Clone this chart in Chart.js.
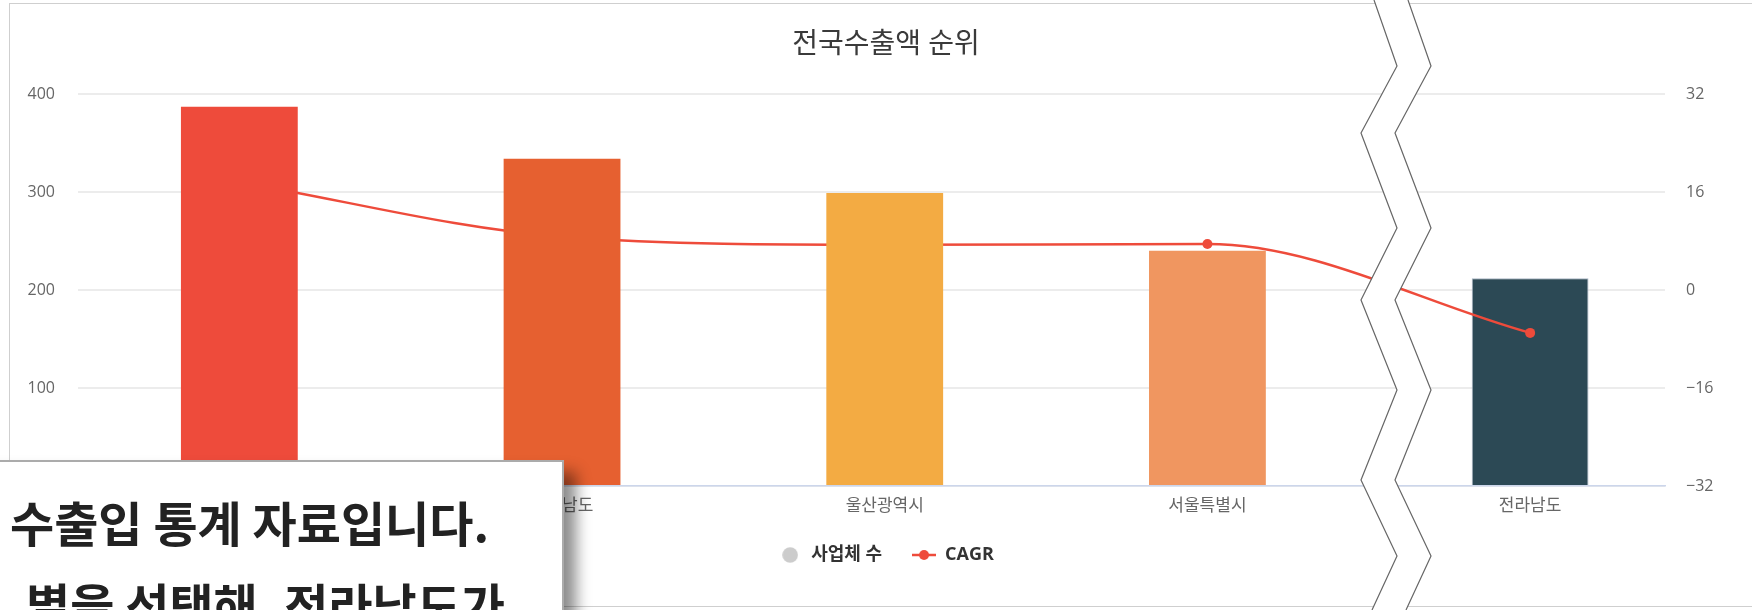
<!DOCTYPE html>
<html>
<head>
<meta charset="utf-8">
<script src="https://cdn.jsdelivr.net/npm/chart.js@4.4.1/dist/chart.umd.min.js"></script>
<style>
html,body{margin:0;padding:0;background:#fff;width:1752px;height:610px;overflow:hidden;position:relative;}
#frame{position:absolute;left:9px;top:3px;width:1752px;height:602px;border:1px solid #cfcfcf;background:#fff;}
#chart{display:block;}
#zigzag{position:absolute;left:0;top:0;width:1752px;height:610px;pointer-events:none;}
#popup{position:absolute;left:-30px;top:460px;width:590px;height:220px;background:#fff;border:2px solid #ababab;box-shadow:12px 12px 14px rgba(0,0,0,0.45);}
.note{position:absolute;font-family:"Noto Sans CJK KR",sans-serif;font-weight:700;font-size:48px;line-height:48px;color:#222;white-space:nowrap;}
</style>
</head>
<body>
<div id="frame"><canvas id="chart" width="1752" height="602"></canvas></div>
<svg id="zigzag" width="1752" height="610" viewBox="0 0 1752 610">
  <polygon fill="#fff" points="1374,0 1397,66 1361,133 1397,228 1361,300 1397,390 1361,480 1397,556 1372,610 1406,610 1431,556 1395,480 1431,390 1395,300 1431,228 1395,133 1431,66 1408,0"/>
  <polyline fill="none" stroke="#666" stroke-width="1.2" points="1374,0 1397,66 1361,133 1397,228 1361,300 1397,390 1361,480 1397,556 1372,610"/>
  <polyline fill="none" stroke="#666" stroke-width="1.2" points="1408,0 1431,66 1395,133 1431,228 1395,300 1431,390 1395,480 1431,556 1406,610"/>
</svg>
<div id="popup"></div>
<div class="note" style="left:10px;top:497px;">수출입 통계 자료입니다.</div>
<div class="note" style="left:26px;top:579px;">별을 선택해, 전라남도가</div>
<script>
// ---- data ----
const categories = ['경기도', '충청남도', '울산광역시', '서울특별시', '전라남도'];
const companyCounts = [387, 334, 299, 240, 212];
const cagrValues = [17.6, 8.7, 7.4, 7.5, -7.0];
const countTicks = [0, 100, 200, 300, 400];
const cagrTicks = [-32, -16, 0, 16, 32];
const seriesNames = ['사업체 수', 'CAGR'];
const chartTitle = '전국수출액 순위';

// ---- styles ----
const barColors = ['#EE4B3B', '#E66030', '#F3AB43', '#F09660', '#2C4955'];
const lineColor = '#EE4B3B';
const breakIndex = 4; // bars after the axis break sit beneath the line
const FONT = '"Open Sans", "Noto Sans CJK KR", sans-serif';

const barPoints = companyCounts.map((v, i) => ({x: i, y: v}));
const cagrPoints = cagrValues.map((v, i) => ({x: i, y: v}));

function makeCircle() {
  const c = document.createElement('canvas'); c.width = 16; c.height = 16;
  const g = c.getContext('2d'); g.fillStyle = '#cccccc';
  g.beginPath(); g.arc(8, 8, 7.8, 0, Math.PI * 2); g.fill(); return c;
}
function makeLineMarker() {
  const c = document.createElement('canvas'); c.width = 24; c.height = 12;
  const g = c.getContext('2d'); g.strokeStyle = lineColor; g.lineWidth = 2.5;
  g.beginPath(); g.moveTo(0, 6); g.lineTo(24, 6); g.stroke();
  g.fillStyle = lineColor; g.beginPath(); g.arc(12, 6, 5, 0, Math.PI * 2); g.fill(); return c;
}
const circleMarker = makeCircle();
const lineMarker = makeLineMarker();

const step = (arr) => arr[1] - arr[0];

new Chart(document.getElementById('chart'), {
  type: 'bar',
  data: {
    datasets: [
      {
        type: 'bar', label: seriesNames[0], data: barPoints.slice(0, breakIndex),
        backgroundColor: barColors.slice(0, breakIndex), borderWidth: 0,
        grouped: false, barPercentage: 0.362, categoryPercentage: 1, order: 0, yAxisID: 'y'
      },
      {
        type: 'line', label: seriesNames[1], data: cagrPoints,
        borderColor: lineColor, backgroundColor: lineColor, borderWidth: 2.5,
        pointRadius: 5, pointBorderWidth: 0, pointBackgroundColor: lineColor,
        cubicInterpolationMode: 'monotone', fill: false, order: 1, yAxisID: 'y2'
      },
      {
        type: 'bar', label: seriesNames[0], data: barPoints.slice(breakIndex),
        backgroundColor: barColors.slice(breakIndex), borderColor: '#a8b5c3', borderWidth: 1,
        grouped: false, barPercentage: 0.362, categoryPercentage: 1, order: 2, yAxisID: 'y'
      }
    ]
  },
  options: {
    responsive: false,
    animation: false,
    devicePixelRatio: 1,
    layout: {padding: {left: 0, right: 0, top: 0, bottom: 32}},
    scales: {
      x: {
        type: 'linear', position: 'bottom',
        min: -0.5, max: categories.length - 1 + 0.418, offset: false,
        grid: {display: false, drawTicks: false},
        border: {display: true, color: '#ccd6eb', width: 1.5},
        ticks: {
          stepSize: 1, includeBounds: false, autoSkip: false, maxRotation: 0, minRotation: 0,
          padding: 10, color: '#666666', font: {family: FONT, size: 17},
          callback: (v) => (Number.isInteger(v) && categories[v] !== undefined ? categories[v] : '')
        },
        afterFit: (s) => { s.height = 30; }
      },
      y: {
        type: 'linear', position: 'left',
        min: countTicks[0], max: countTicks[countTicks.length - 1],
        grid: {color: '#ececec', lineWidth: 2, drawTicks: false},
        border: {display: false},
        ticks: {stepSize: step(countTicks), padding: 23, color: '#666666', font: {family: FONT, size: 16}},
        afterFit: (s) => { s.width = 68; }
      },
      y2: {
        type: 'linear', position: 'right',
        min: cagrTicks[0], max: cagrTicks[cagrTicks.length - 1],
        grid: {display: false, drawTicks: false},
        border: {display: false},
        ticks: {
          stepSize: step(cagrTicks), padding: 21, color: '#666666', font: {family: FONT, size: 16},
          callback: (v) => (v < 0 ? '\u2212' + Math.abs(v) : String(v))
        },
        afterFit: (s) => { s.width = 97; }
      }
    },
    plugins: {
      tooltip: {enabled: false},
      title: {
        display: true, text: chartTitle, color: '#3a3a3a',
        font: {family: FONT, size: 28, weight: 'normal'},
        padding: {top: 24.2, bottom: 32.2}
      },
      legend: {
        display: true, position: 'bottom', align: 'center',
        labels: {
          usePointStyle: true, pointStyleWidth: 24, boxHeight: 18, padding: 30,
          color: '#333333', font: {family: FONT, size: 18, weight: 'bold'},
          generateLabels: (chart) => [
            {text: chart.data.datasets[0].label, pointStyle: circleMarker, fillStyle: '#cccccc', strokeStyle: '#cccccc', lineWidth: 0, hidden: false, datasetIndex: 0, fontColor: '#333333'},
            {text: chart.data.datasets[1].label, pointStyle: lineMarker, fillStyle: lineColor, strokeStyle: lineColor, lineWidth: 0, hidden: false, datasetIndex: 1, fontColor: '#333333'}
          ]
        }
      }
    }
  }
});
</script>
</body>
</html>
